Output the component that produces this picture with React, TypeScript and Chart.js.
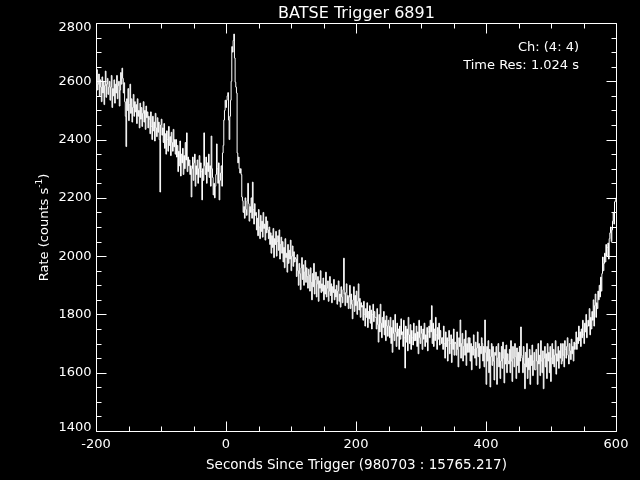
import { useEffect, useRef } from 'react';
import { Chart, registerables } from 'chart.js';

Chart.register(...registerables);

const TITLE = 'BATSE Trigger 6891';
const X_TITLE = 'Seconds Since Trigger (980703 : 15765.217)';
const Y_TITLE_MAIN = 'Rate (counts s';
const Y_TITLE_SUP = '-1';
const Y_TITLE_END = ')';
const CHANNEL_LABEL = 'Ch: (4: 4)';
const TIME_RES_LABEL = 'Time Res: 1.024 s';

const START_TIME = -200;
const BIN_WIDTH = 1.024;

const X_MIN = -200;
const X_MAX = 600;
const Y_MIN = 1400;
const Y_MAX = 2800;

const X_MAJOR = [-200, 0, 200, 400, 600];
const X_MINOR = [-150, -100, -50, 50, 100, 150, 250, 300, 350, 450, 500, 550];
const Y_MAJOR = [1400, 1600, 1800, 2000, 2200, 2400, 2600, 2800];
const Y_MINOR = [1450, 1500, 1550, 1650, 1700, 1750, 1850, 1900, 1950, 2050, 2100, 2150, 2250, 2300, 2350, 2450, 2500, 2550, 2650, 2700, 2750];

// count rate per 1.024 s bin, starting at START_TIME (20 bins per row)
const RATES = [
  2600, 2640, 2570, 2590, 2625, 2550, 2605, 2580, 2530, 2615, 2560, 2600, 2520, 2585, 2635, 2545, 2590, 2610, 2555, 2580,
  2600, 2535, 2580, 2620, 2510, 2575, 2550, 2605, 2525, 2590, 2560, 2620, 2540, 2585, 2600, 2515, 2570, 2630, 2590, 2645,
  2610, 2560, 2595, 2530, 2480, 2376, 2540, 2500, 2575, 2465, 2520, 2590, 2490, 2540, 2460, 2510, 2555, 2480, 2530, 2495,
  2520, 2455, 2540, 2480, 2500, 2440, 2525, 2470, 2510, 2445, 2490, 2530, 2460, 2500, 2435, 2515, 2475, 2495, 2440, 2480,
  2470, 2420, 2495, 2445, 2400, 2480, 2430, 2460, 2395, 2490, 2440, 2410, 2475, 2425, 2460, 2400, 2220, 2450, 2470, 2415,
  2440, 2390, 2455, 2370, 2420, 2350, 2430, 2400, 2360, 2445, 2380, 2410, 2345, 2425, 2390, 2360, 2435, 2375, 2400, 2350,
  2400, 2340, 2380, 2290, 2360, 2310, 2395, 2275, 2350, 2320, 2370, 2280, 2345, 2300, 2390, 2330, 2423, 2290, 2340, 2310,
  2330, 2280, 2310, 2203, 2300, 2340, 2260, 2320, 2350, 2240, 2310, 2280, 2330, 2250, 2300, 2345, 2270, 2320, 2290, 2193,
  2300, 2260, 2423, 2310, 2280, 2340, 2250, 2320, 2290, 2350, 2270, 2310, 2240, 2412, 2300, 2270, 2210, 2250, 2200, 2240,
  2280, 2385, 2300, 2250, 2320, 2193, 2260, 2285, 2310, 2240, 2354, 2380, 2467, 2500, 2535, 2510, 2535, 2550, 2561, 2467,
  2400, 2480, 2535, 2600, 2719, 2700, 2740, 2762, 2680, 2597, 2580, 2560, 2354, 2320, 2340, 2300, 2285, 2300, 2280, 2203,
  2190, 2150, 2170, 2130, 2200, 2160, 2140, 2190, 2250, 2180, 2120, 2170, 2150, 2200, 2130, 2254, 2160, 2110, 2180, 2140,
  2150, 2090, 2130, 2070, 2160, 2100, 2060, 2140, 2085, 2120, 2065, 2150, 2095, 2110, 2055, 2135, 2080, 2120, 2090, 2060,
  2100, 2040, 2080, 2010, 2070, 2030, 2095, 1995, 2060, 2040, 2085, 2000, 2050, 2070, 2020, 2090, 1990, 2040, 2065, 2010,
  2050, 1980, 2030, 1960, 2060, 1995, 2010, 1945, 2040, 1975, 2020, 1990, 2055, 1950, 2000, 2035, 1965, 2015, 1980, 1995,
  1990, 1930, 2005, 1950, 1900, 1975, 1940, 1885, 1960, 1995, 1920, 1970, 1900, 1945, 1985, 1910, 1960, 1930, 1890, 1955,
  1935, 1880, 1960, 1910, 1850, 1940, 1895, 1975, 1870, 1920, 1945, 1860, 1905, 1930, 1845, 1915, 1890, 1950, 1875, 1905,
  1880, 1925, 1850, 1900, 1870, 1945, 1860, 1890, 1915, 1845, 1880, 1930, 1865, 1905, 1840, 1895, 1875, 1920, 1850, 1885,
  1860, 1900, 1835, 1880, 1915, 1845, 1870, 1825, 1895, 1860, 1840, 1885, 1993, 1870, 1830, 1875, 1905, 1840, 1865, 1820,
  1860, 1900, 1820, 1870, 1835, 1785, 1850, 1895, 1810, 1865, 1830, 1880, 1800, 1845, 1905, 1815, 1855, 1790, 1840, 1825,
  1830, 1780, 1845, 1800, 1760, 1820, 1790, 1840, 1755, 1810, 1785, 1830, 1770, 1815, 1750, 1800, 1835, 1775, 1810, 1790,
  1790, 1750, 1820, 1765, 1705, 1800, 1740, 1835, 1770, 1720, 1790, 1755, 1810, 1730, 1780, 1710, 1795, 1760, 1725, 1780,
  1760, 1720, 1790, 1700, 1755, 1670, 1780, 1735, 1710, 1800, 1740, 1690, 1770, 1725, 1750, 1680, 1760, 1715, 1785, 1730,
  1740, 1690, 1780, 1720, 1616, 1760, 1705, 1750, 1675, 1790, 1730, 1700, 1765, 1680, 1745, 1720, 1695, 1770, 1710, 1735,
  1710, 1760, 1690, 1740, 1665, 1780, 1720, 1700, 1760, 1735, 1680, 1750, 1715, 1770, 1690, 1730, 1705, 1755, 1675, 1740,
  1760, 1720, 1780, 1740, 1830, 1700, 1770, 1690, 1750, 1710, 1790, 1730, 1680, 1755, 1715, 1770, 1695, 1745, 1720, 1700,
  1720, 1680, 1760, 1700, 1650, 1740, 1690, 1720, 1640, 1710, 1745, 1665, 1700, 1730, 1635, 1715, 1680, 1750, 1660, 1705,
  1700, 1660, 1740, 1680, 1620, 1720, 1690, 1781, 1650, 1700, 1735, 1640, 1690, 1715, 1660, 1745, 1625, 1700, 1670, 1720,
  1670, 1720, 1640, 1700, 1610, 1690, 1660, 1730, 1680, 1650, 1705, 1625, 1685, 1740, 1655, 1700, 1615, 1690, 1665, 1720,
  1700, 1640, 1690, 1620, 1781, 1670, 1560, 1690, 1640, 1710, 1600, 1680, 1551, 1655, 1700, 1625, 1690, 1640, 1575, 1670,
  1660, 1690, 1560, 1650, 1700, 1620, 1670, 1580, 1640, 1690, 1615, 1705, 1650, 1565, 1680, 1630, 1695, 1600, 1665, 1640,
  1630, 1680, 1600, 1710, 1640, 1570, 1690, 1650, 1620, 1700, 1655, 1580, 1685, 1625, 1670, 1600, 1690, 1640, 1757, 1660,
  1650, 1600, 1690, 1630, 1545, 1670, 1620, 1700, 1580, 1650, 1610, 1680, 1560, 1660, 1625, 1695, 1590, 1640, 1670, 1610,
  1610, 1680, 1640, 1560, 1700, 1630, 1660, 1590, 1710, 1640, 1600, 1675, 1545, 1650, 1690, 1620, 1665, 1580, 1700, 1640,
  1670, 1600, 1690, 1570, 1650, 1700, 1630, 1680, 1620, 1660, 1710, 1595, 1665, 1640, 1690, 1615, 1675, 1650, 1700, 1630,
  1640, 1700, 1660, 1620, 1710, 1680, 1650, 1690, 1720, 1660, 1630, 1700, 1675, 1645, 1715, 1665, 1690, 1640, 1705, 1680,
  1700, 1740, 1680, 1720, 1700, 1760, 1710, 1740, 1690, 1750, 1720, 1780, 1730, 1700, 1770, 1740, 1800, 1720, 1760, 1780,
  1760, 1820, 1730, 1790, 1750, 1810, 1780, 1850, 1760, 1830, 1870, 1790, 1840, 1820, 1880, 1850, 1900, 1860, 1928, 1880,
  1940, 1997, 1950, 1975, 2010, 1980, 2040, 2000, 2030, 2045, 1990, 2060, 2080, 2100, 2050, 2090, 2120, 2150, 2110, 2186,
  2190, 2200,
];

const FONT_FAMILY = "'DejaVu Sans', sans-serif";

const framePlugin = {
  id: 'idlFrame',
  beforeDraw(chart: any) {
    const ctx = chart.ctx;
    ctx.save();
    ctx.fillStyle = '#000000';
    ctx.fillRect(0, 0, chart.width, chart.height);
    ctx.restore();
  },
  afterDraw(chart: any) {
    const ctx = chart.ctx;
    const xs = chart.scales.x;
    const ys = chart.scales.y;
    const L = Math.round(xs.getPixelForValue(X_MIN)) + 0.5;
    const R = Math.round(xs.getPixelForValue(X_MAX)) + 0.5;
    const T = Math.round(ys.getPixelForValue(Y_MAX)) + 0.5;
    const B = Math.round(ys.getPixelForValue(Y_MIN)) + 0.5;
    ctx.save();
    ctx.strokeStyle = '#ffffff';
    ctx.lineWidth = 1;
    ctx.beginPath();
    ctx.rect(L, T, R - L, B - T);
    const major = 10;
    const minor = 5;
    const xt = (v: number, len: number) => {
      const p = Math.round(xs.getPixelForValue(v)) + 0.5;
      ctx.moveTo(p, B);
      ctx.lineTo(p, B - len);
      ctx.moveTo(p, T);
      ctx.lineTo(p, T + len);
    };
    const yt = (v: number, len: number) => {
      const p = Math.round(ys.getPixelForValue(v)) + 0.5;
      ctx.moveTo(L, p);
      ctx.lineTo(L + len, p);
      ctx.moveTo(R, p);
      ctx.lineTo(R - len, p);
    };
    X_MAJOR.forEach((v) => xt(v, major));
    X_MINOR.forEach((v) => xt(v, minor));
    Y_MAJOR.forEach((v) => yt(v, major));
    Y_MINOR.forEach((v) => yt(v, minor));
    ctx.stroke();

    ctx.fillStyle = '#ffffff';

    // y tick labels (end labels kept inside the axis span)
    ctx.font = `13px ${FONT_FAMILY}`;
    ctx.textAlign = 'right';
    ctx.textBaseline = 'middle';
    Y_MAJOR.forEach((v) => {
      const p = ys.getPixelForValue(v);
      const yc = Math.min(Math.max(p, T + 4), B - 4);
      ctx.fillText(String(v), L - 5, yc);
    });

    const cx = (L + R) / 2;
    ctx.textAlign = 'center';
    ctx.textBaseline = 'alphabetic';
    ctx.font = `16px ${FONT_FAMILY}`;
    ctx.fillText(TITLE, cx, 18);

    ctx.font = `13.5px ${FONT_FAMILY}`;
    ctx.fillText(X_TITLE, cx, 469);

    ctx.font = `13px ${FONT_FAMILY}`;
    ctx.textAlign = 'right';
    ctx.fillText(CHANNEL_LABEL, 579, 51);
    ctx.fillText(TIME_RES_LABEL, 579, 69);

    // rotated y title with superscript
    ctx.save();
    ctx.translate(48, (T + B) / 2);
    ctx.rotate(-Math.PI / 2);
    ctx.textAlign = 'left';
    ctx.font = `13px ${FONT_FAMILY}`;
    const w1 = ctx.measureText(Y_TITLE_MAIN).width;
    const w3 = ctx.measureText(Y_TITLE_END).width;
    ctx.font = `9px ${FONT_FAMILY}`;
    const w2 = ctx.measureText(Y_TITLE_SUP).width;
    let x0 = -(w1 + w2 + w3) / 2;
    ctx.font = `13px ${FONT_FAMILY}`;
    ctx.fillText(Y_TITLE_MAIN, x0, 0);
    x0 += w1;
    ctx.font = `9px ${FONT_FAMILY}`;
    ctx.fillText(Y_TITLE_SUP, x0, -6);
    x0 += w2;
    ctx.font = `13px ${FONT_FAMILY}`;
    ctx.fillText(Y_TITLE_END, x0, 0);
    ctx.restore();

    ctx.restore();
  },
};

export default function App() {
  const canvasRef = useRef<HTMLCanvasElement | null>(null);

  useEffect(() => {
    document.body.style.margin = '0';
    document.body.style.background = '#000000';
    const canvas = canvasRef.current;
    if (!canvas) return;
    const points = RATES.map((r, i) => ({ x: START_TIME + i * BIN_WIDTH, y: r }));
    const chart = new Chart(canvas, {
      type: 'line',
      data: {
        datasets: [
          {
            data: points,
            borderColor: '#ffffff',
            borderWidth: 1,
            pointRadius: 0,
            stepped: true,
            fill: false,
            tension: 0,
          },
        ],
      },
      options: {
        responsive: false,
        animation: false,
        devicePixelRatio: 1,
        layout: { padding: { top: 23, right: 24, left: 0, bottom: 0 } },
        plugins: {
          legend: { display: false },
          tooltip: { enabled: false },
          title: { display: false },
        },
        scales: {
          x: {
            type: 'linear',
            min: X_MIN,
            max: X_MAX,
            grid: { display: false, drawTicks: false },
            border: { display: false },
            ticks: {
              stepSize: 200,
              color: '#ffffff',
              font: { family: FONT_FAMILY, size: 13 },
              padding: 6,
              maxRotation: 0,
              autoSkip: false,
              callback: (v: any) => (X_MAJOR.includes(Number(v)) ? String(v) : ''),
            },
            afterFit: (s: any) => {
              s.height = 49;
            },
          },
          y: {
            type: 'linear',
            min: Y_MIN,
            max: Y_MAX,
            grid: { display: false, drawTicks: false },
            border: { display: false },
            ticks: {
              display: false,
              stepSize: 200,
            },
            afterFit: (s: any) => {
              s.width = 96;
            },
          },
        },
      },
      plugins: [framePlugin],
    });
    return () => chart.destroy();
  }, []);

  return <canvas ref={canvasRef} width={640} height={480} style={{ display: 'block' }} />;
}
